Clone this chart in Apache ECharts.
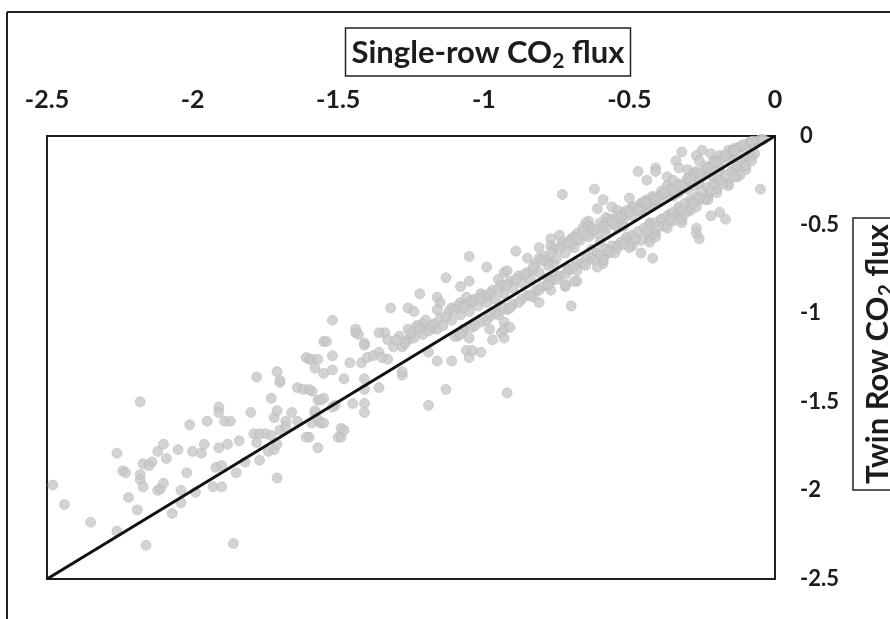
<!DOCTYPE html>
<html>
<head>
<meta charset="utf-8">
<script src="https://cdn.jsdelivr.net/npm/echarts@6/dist/echarts.min.js"></script>
<style>
  body{margin:0;background:#fff;}
  #chart{width:890px;height:619px;}
</style>
</head>
<body>
<div id="chart"></div>
<script>
// single-row (x) vs twin row (y) CO2 flux
var lowPoints=[
  [-2.48,-1.97],[-2.44,-2.08],[-2.35,-2.18],[-2.26,-2.23],[-2.16,-2.31],[-1.86,-2.30],
  [-2.18,-1.50],[-2.26,-1.79],[-2.24,-1.89],[-2.23,-1.90],[-2.22,-2.04],[-2.19,-2.11],
  [-2.18,-1.94],[-2.17,-1.98],[-2.18,-1.91],[-2.17,-1.85],[-2.14,-1.84],[-2.15,-1.86],
  [-2.12,-1.78],[-2.10,-1.74],[-2.09,-1.82],[-2.12,-2.00],[-2.11,-1.99],[-2.10,-1.96],
  [-2.07,-2.13],[-2.05,-1.77],[-2.04,-2.00],[-2.04,-2.07],[-2.02,-1.90],[-2.01,-1.63],
  [-2.00,-1.78],[-1.97,-1.79],[-1.96,-1.74],[-1.99,-2.01],[-1.95,-1.61],[-1.93,-1.98],
  [-1.90,-1.98],[-1.92,-1.87],[-1.90,-1.86],[-1.91,-1.76],[-1.88,-1.74],[-1.91,-1.53],
  [-1.91,-1.56],[-1.89,-1.61],[-1.87,-1.61],[-1.85,-1.90],[-1.84,-1.72],[-1.82,-1.84],
  [-1.80,-1.56],[-1.79,-1.68],[-1.78,-1.73],[-1.77,-1.68],[-1.75,-1.68],[-1.73,-1.69],
  [-1.77,-1.83],[-1.74,-1.78],[-1.72,-1.77],[-1.71,-1.74],[-1.73,-1.48],[-1.72,-1.59],
  [-1.71,-1.55],[-1.71,-1.93],[-1.70,-1.66],[-1.68,-1.61],[-1.68,-1.64],[-1.66,-1.56],
  [-1.64,-1.61],[-1.64,-1.42],[-1.62,-1.43],[-1.70,-1.39],[-1.78,-1.36],[-1.71,-1.33],
  [-1.70,-1.38],[-1.60,-1.70],[-1.59,-1.44],[-1.59,-1.62],[-1.57,-1.60],[-1.56,-1.62],
  [-1.57,-1.76],[-1.57,-1.49],[-1.55,-1.48],[-1.58,-1.56],[-1.58,-1.55],[-1.51,-1.52],
  [-1.50,-1.70],[-1.49,-1.65],[-1.55,-1.62],[-1.60,-1.43],[-1.56,-1.49],[-1.52,-1.53],
  [-1.61,-1.70],[-1.49,-1.70],[-1.48,-1.66],[-1.45,-1.51]
];
var midPoints=[
  [-1.52,-1.04],[-1.55,-1.16],[-1.54,-1.16],[-1.52,-1.24],[-1.61,-1.25],[-1.60,-1.26],
  [-1.59,-1.26],[-1.57,-1.26],[-1.58,-1.31],[-1.55,-1.34],[-1.52,-1.32],[-1.48,-1.37],
  [-1.46,-1.28],[-1.44,-1.11],[-1.43,-1.12],[-1.44,-1.09],[-1.41,-1.17],[-1.41,-1.18],
  [-1.42,-1.28],[-1.40,-1.25],[-1.38,-1.24],[-1.36,-1.22],[-1.41,-1.37],[-1.41,-1.43],
  [-1.41,-1.51],[-1.41,-1.56],[-1.36,-1.42],[-1.34,-1.11],[-1.33,-1.15],[-1.36,-1.11],
  [-1.32,-0.97],[-1.33,-1.26],[-1.35,-1.25],[-1.28,-1.35],[-1.28,-1.33],[-1.26,-0.97],
  [-1.24,-0.99],[-1.25,-1.13],[-1.23,-1.08],[-1.21,-1.06],[-1.18,-1.09],[-1.16,-1.09],
  [-1.26,-1.15],[-1.28,-1.19],[-1.22,-0.89],[-1.19,-1.22],[-1.19,-1.52],[-1.16,-1.27],
  [-1.16,-0.91],[-1.15,-0.94],[-1.16,-0.98],[-1.13,-1.43],[-1.13,-0.80],[-1.11,-1.27],
  [-1.11,-0.97],[-1.08,-0.94],[-1.06,-0.91],[-1.04,-0.94],[-1.01,-0.89],[-0.99,-0.91],
  [-1.08,-0.85],[-1.05,-0.82],[-1.05,-0.68],[-1.09,-1.13],[-1.07,-1.09],[-1.05,-1.14],
  [-1.06,-1.21],[-1.05,-1.25],[-1.04,-1.21],[-1.01,-1.22],[-0.99,-0.74],[-0.98,-1.09],
  [-0.97,-1.15],[-0.95,-0.81],[-0.93,-0.77],[-0.94,-1.11],[-0.93,-1.14],[-0.93,-1.05],
  [-0.93,-1.09],[-0.91,-1.08],[-0.92,-1.45],[-0.92,-0.76],[-0.89,-0.65],[-0.81,-0.63],
  [-0.85,-0.69],[-0.83,-0.91],[-0.81,-0.94],[-0.77,-0.87],[-0.72,-0.85],[-0.68,-0.82],
  [-0.92,-0.98],[-0.95,-0.99],[-0.78,-0.80],[-0.83,-0.76],[-0.70,-0.96]
];
var highPoints=[
  [-0.73,-0.33],[-0.62,-0.30],[-0.59,-0.36],[-0.50,-0.35],[-0.61,-0.41],[-0.58,-0.46],
  [-0.64,-0.48],[-0.65,-0.49],[-0.56,-0.40],[-0.54,-0.42],[-0.52,-0.44],[-0.49,-0.40],
  [-0.46,-0.38],[-0.44,-0.36],[-0.42,-0.34],[-0.39,-0.31],[-0.37,-0.28],[-0.46,-0.43],
  [-0.44,-0.41],[-0.41,-0.38],[-0.35,-0.34],[-0.33,-0.32],[-0.30,-0.30],[-0.28,-0.28],
  [-0.26,-0.27],[-0.47,-0.20],[-0.44,-0.25],[-0.41,-0.18],[-0.41,-0.20],[-0.37,-0.23],
  [-0.35,-0.25],[-0.32,-0.09],[-0.25,-0.08],[-0.22,-0.10],[-0.27,-0.11],[-0.26,-0.14],
  [-0.34,-0.14],[-0.33,-0.18],[-0.30,-0.19],[-0.30,-0.24],[-0.28,-0.21],[-0.23,-0.21],
  [-0.21,-0.24],[-0.19,-0.20],[-0.09,-0.04],[-0.12,-0.06],[-0.14,-0.07],[-0.16,-0.08],
  [-0.07,-0.03],[-0.05,-0.02],[-0.19,-0.11],[-0.21,-0.14],[-0.15,-0.12],[-0.10,-0.13],
  [-0.08,-0.11],[-0.12,-0.17],[-0.14,-0.19],[-0.05,-0.30],[-0.43,-0.49],[-0.39,-0.47],
  [-0.36,-0.44],[-0.33,-0.41],[-0.29,-0.38],[-0.26,-0.36],[-0.23,-0.34],[-0.20,-0.30],
  [-0.16,-0.27],[-0.13,-0.23],[-0.10,-0.19],[-0.41,-0.55],[-0.37,-0.52],[-0.43,-0.58],
  [-0.34,-0.45],[-0.32,-0.49],[-0.29,-0.42],[-0.23,-0.36],[-0.22,-0.45],[-0.19,-0.43],
  [-0.17,-0.47],[-0.27,-0.52],[-0.27,-0.55],[-0.26,-0.58],[-0.42,-0.69],[-0.49,-0.62],
  [-0.46,-0.66],[-0.51,-0.58],[-0.54,-0.62],[-0.57,-0.66],[-0.59,-0.69],[-0.60,-0.60],
  [-0.58,-0.56],[-0.63,-0.64],[-0.77,-0.58],[-0.74,-0.56],[-0.70,-0.58],[-0.68,-0.55],
  [-0.66,-0.52],[-0.64,-0.51],[-0.77,-0.62],[-0.73,-0.62],[-0.69,-0.63],[-0.81,-0.69],
  [-0.78,-0.71],[-0.76,-0.72],[-0.75,-0.79],[-0.71,-0.75],[-0.68,-0.72],[-0.65,-0.69],
  [-0.69,-0.82],[-0.72,-0.84],[-0.59,-0.72],[-0.61,-0.74],[-0.54,-0.52],[-0.52,-0.51],
  [-0.56,-0.47],[-0.33,-0.43],[-0.32,-0.47],[-0.43,-0.60],[-0.41,-0.57],[-0.43,-0.56],
  [-0.30,-0.42]
];
// dense band just above the 1:1 line
var upperBand=[
  [-1.31,-1.19],[-1.29,-1.13],[-1.27,-1.17],[-1.26,-1.09],[-1.24,-1.14],[-1.23,-1.07],
  [-1.21,-1.12],[-1.20,-1.04],[-1.19,-1.10],[-1.17,-1.06],[-1.15,-1.03],[-1.14,-1.07],
  [-1.12,-0.99],[-1.11,-1.04],[-1.09,-0.96],[-1.08,-1.01],[-1.06,-0.95],[-1.05,-0.99],
  [-1.03,-0.92],[-1.02,-0.96],[-1.00,-0.90],[-0.99,-0.94],[-0.97,-0.87],[-0.96,-0.92],
  [-0.94,-0.84],[-0.93,-0.89],[-0.91,-0.82],[-0.90,-0.86],[-0.88,-0.79],[-0.87,-0.83],
  [-0.85,-0.77],[-0.84,-0.81],[-0.82,-0.72],[-0.81,-0.77],[-0.79,-0.68],[-0.78,-0.73],
  [-0.76,-0.64],[-0.75,-0.69],[-0.73,-0.60],[-0.72,-0.66],[-0.70,-0.61],[-0.69,-0.57],
  [-0.67,-0.59],[-0.66,-0.54],[-0.64,-0.57],[-0.63,-0.52],[-0.61,-0.55],[-0.60,-0.49],
  [-0.58,-0.52],[-0.57,-0.47],[-0.55,-0.50],[-0.54,-0.45],[-0.52,-0.47],[-0.51,-0.42],
  [-0.49,-0.45],[-0.48,-0.40],[-0.46,-0.41],[-0.45,-0.37],[-0.43,-0.39],[-0.42,-0.35],
  [-0.40,-0.37],[-0.39,-0.33],[-0.37,-0.34],[-0.36,-0.30],[-0.34,-0.32],[-0.33,-0.27],
  [-0.31,-0.29],[-0.30,-0.24],[-0.28,-0.26],[-0.27,-0.20],[-0.25,-0.23],[-0.24,-0.17],
  [-0.22,-0.19],[-0.21,-0.15],[-0.19,-0.17],[-0.18,-0.12],[-0.16,-0.13],[-0.15,-0.09],
  [-0.13,-0.10],[-0.12,-0.06],[-0.10,-0.07],[-0.09,-0.04],[-0.07,-0.05],[-0.06,-0.03],
  [-0.04,-0.02],
  [-1.30,-1.15],[-1.25,-1.11],[-1.22,-1.09],[-1.18,-1.07],[-1.13,-1.02],[-1.10,-0.98],
  [-1.07,-0.97],[-1.04,-0.93],[-1.01,-0.92],[-0.98,-0.89],[-0.95,-0.86],[-0.92,-0.84],
  [-0.89,-0.81],[-0.86,-0.78],[-0.83,-0.74],[-0.80,-0.70],[-0.77,-0.66],[-0.74,-0.63],
  [-0.71,-0.60],[-0.68,-0.58],[-0.65,-0.56],[-0.62,-0.53],[-0.59,-0.51],[-0.56,-0.48],
  [-0.53,-0.46],[-0.50,-0.43],[-0.47,-0.42],[-0.44,-0.38],[-0.41,-0.36],[-0.38,-0.32],
  [-0.35,-0.31],[-0.32,-0.28],[-0.29,-0.25],[-0.26,-0.21],[-0.23,-0.18],[-0.20,-0.15],
  [-0.17,-0.11],[-0.14,-0.08],[-0.11,-0.05],[-0.08,-0.03]
];
// dense band just below the 1:1 line
var lowerBand=[
  [-1.10,-1.13],[-1.07,-1.10],[-1.04,-1.08],[-1.01,-1.05],[-0.98,-1.02],[-0.96,-1.00],
  [-0.93,-0.97],[-0.90,-0.95],[-0.87,-0.92],[-0.85,-0.90],[-0.82,-0.87],[-0.80,-0.85],
  [-0.77,-0.82],[-0.74,-0.79],[-0.71,-0.76],[-0.69,-0.74],[-0.66,-0.72],[-0.63,-0.69],
  [-0.61,-0.66],[-0.58,-0.64],[-0.56,-0.62],[-0.53,-0.60],[-0.51,-0.57],[-0.49,-0.56],
  [-0.47,-0.54],[-0.45,-0.52],[-0.43,-0.50],[-0.41,-0.49],[-0.39,-0.47],[-0.37,-0.45],
  [-0.35,-0.43],[-0.33,-0.40],[-0.31,-0.38],[-0.29,-0.36],[-0.27,-0.34],[-0.25,-0.31],
  [-0.23,-0.29],[-0.21,-0.27],[-0.19,-0.25],[-0.17,-0.22],[-0.15,-0.20],[-0.13,-0.17],
  [-0.11,-0.15],[-0.09,-0.12],[-0.07,-0.10],
  [-0.59,-0.70],[-0.55,-0.66],[-0.50,-0.63],[-0.46,-0.59],[-0.42,-0.55],[-0.38,-0.51],
  [-0.35,-0.48],[-0.31,-0.44],[-0.27,-0.40],[-0.24,-0.36],[-0.20,-0.32],[-0.16,-0.28],
  [-0.12,-0.22],
  [-1.08,-1.12],[-1.03,-1.07],[-0.99,-1.04],[-0.95,-1.01],[-0.91,-0.97],[-0.88,-0.94],
  [-0.84,-0.90],[-0.81,-0.87],[-0.78,-0.84],[-0.75,-0.81],[-0.72,-0.78],[-0.68,-0.76],
  [-0.65,-0.73],[-0.62,-0.70],[-0.60,-0.67],[-0.57,-0.65],[-0.54,-0.63],[-0.52,-0.61],
  [-0.48,-0.58],[-0.44,-0.54],[-0.40,-0.51],[-0.36,-0.47],[-0.32,-0.42],[-0.28,-0.38],
  [-0.26,-0.35],[-0.22,-0.31],[-0.18,-0.27],[-0.14,-0.23],[-0.10,-0.17],[-0.08,-0.14]
];
var oneToOne=[[-2.5,-2.5],[0,0]];

var textColor='#1c1c1c';
var fontName='Lato, "Open Sans", sans-serif';
var dotStyle={color:'#c8c8c8',borderColor:'#b2b2b2',borderWidth:0.6};

function titleRich(){
    return {
        a:{fontSize:31,fontWeight:'bold',fontFamily:fontName,fill:textColor,lineHeight:38},
        s:{fontSize:21,fontWeight:'bold',fontFamily:fontName,fill:textColor,lineHeight:22,verticalAlign:'bottom'}
    };
}

var chart=echarts.init(document.getElementById('chart'));
chart.setOption({
    animation:false,
    backgroundColor:'#fff',
    grid:{left:47,top:136,right:115,bottom:40,show:true,borderColor:'#1e1e1e',borderWidth:2},
    xAxis:{
        type:'value',position:'top',min:-2.5,max:0,interval:0.5,
        axisLine:{show:false},axisTick:{show:false},splitLine:{show:false},
        axisLabel:{color:textColor,fontFamily:fontName,fontWeight:'bold',fontSize:25,margin:24}
    },
    yAxis:{
        type:'value',position:'right',min:-2.5,max:0,interval:0.5,
        axisLine:{show:false},axisTick:{show:false},splitLine:{show:false},
        axisLabel:{color:textColor,fontFamily:fontName,fontWeight:'bold',fontSize:22,margin:25}
    },
    graphic:[
        {type:'line',shape:{x1:7,y1:12,x2:890,y2:12},style:{stroke:'#222',lineWidth:2}},
        {type:'line',shape:{x1:7,y1:12,x2:7,y2:619},style:{stroke:'#222',lineWidth:2}},
        {type:'text',x:488,y:52,style:{
            text:'{a|Single-row CO}{s|2}{a| flux}',rich:titleRich(),
            align:'center',verticalAlign:'middle',
            borderColor:'#222',borderWidth:1.5,padding:[6,6,4,6]}},
        {type:'text',x:877,y:354,rotation:Math.PI/2,style:{
            text:'{a|Twin Row CO}{s|2}{a| flux}',rich:titleRich(),
            align:'center',verticalAlign:'middle',
            borderColor:'#222',borderWidth:1.5,padding:[6,6,4,6]}}
    ],
    series:[
        {type:'scatter',symbolSize:10,data:lowPoints,itemStyle:dotStyle},
        {type:'scatter',symbolSize:10,data:midPoints,itemStyle:dotStyle},
        {type:'scatter',symbolSize:10,data:highPoints,itemStyle:dotStyle},
        {type:'scatter',symbolSize:10,data:upperBand,itemStyle:dotStyle},
        {type:'scatter',symbolSize:10,data:lowerBand,itemStyle:dotStyle},
        {type:'line',data:oneToOne,symbol:'none',z:5,lineStyle:{color:'#111',width:3}}
    ]
});
</script>
</body>
</html>
